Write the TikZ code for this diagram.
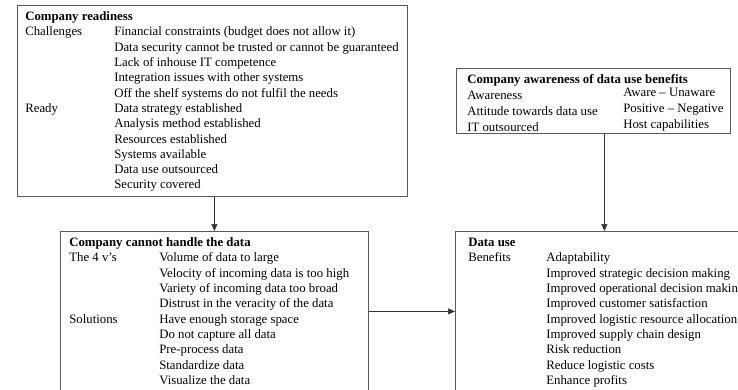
\documentclass[tikz,border=0pt]{standalone}
\usepackage{fontspec}
\setmainfont{Liberation Serif}
\usepackage{array}
\usetikzlibrary{positioning}
\usetikzlibrary{arrows.meta}
\tikzset{panel box/.style={draw=black!65,line width=0.8pt,rectangle,anchor=north west,inner sep=0pt},
	panel text/.style={inner sep=0pt,align=left,font=\fontsize{12.8}{15.3}\selectfont},}

\begin{document}
\begin{tikzpicture}[x=1pt, y=-1pt, >={Triangle[length=7pt,width=6pt]}, semithick]
	\useasboundingbox (0,0) rectangle (738,389);
	\clip (0,0) rectangle (738,389);

	% boxes
	\node[panel box, minimum width=390pt, minimum height=191pt] (readybox) at (17,5) {};
	\node[panel box, minimum width=308pt, minimum height=160pt] (handlebox) at (60,231) {};
	\node[panel box, minimum width=300pt, minimum height=160pt] (usebox) at (455,231) {};
	\node[panel box, minimum width=274pt, minimum height=65pt] (awarebox) at (456,68) {};

	% texts
	\node[panel text, below right=4.6pt and 8pt of readybox.north west] (readytext) {%
		\begin{tabular}{@{}p{89pt}@{}l@{}}
		\multicolumn{2}{@{}l}{\textbf{Company readiness}}\\
		Challenges & Financial constraints (budget does not allow it)\\
		 & Data security cannot be trusted or cannot be guaranteed\\
		 & Lack of inhouse IT competence\\
		 & Integration issues with other systems\\
		 & Off the shelf systems do not fulfil the needs\\
		Ready & Data strategy established\\
		 & Analysis method established\\
		 & Resources established\\
		 & Systems available\\
		 & Data use outsourced\\
		 & Security covered
		\end{tabular}};
	\node[panel text, below right=4.6pt and 9pt of handlebox.north west] (handletext) {%
		\begin{tabular}{@{}p{90pt}@{}l@{}}
		\multicolumn{2}{@{}l}{\textbf{Company cannot handle the data}}\\
		The 4 v’s & Volume of data to large\\
		 & Velocity of incoming data is too high\\
		 & Variety of incoming data too broad\\
		 & Distrust in the veracity of the data\\
		Solutions & Have enough storage space\\
		 & Do not capture all data\\
		 & Pre-process data\\
		 & Standardize data\\
		 & Visualize the data
		\end{tabular}};
	\node[panel text, below right=4.6pt and 13pt of usebox.north west] (usetext) {%
		\begin{tabular}{@{}p{78pt}@{}l@{}}
		\multicolumn{2}{@{}l}{\textbf{Data use}}\\
		Benefits & Adaptability\\
		 & Improved strategic decision making\\
		 & Improved operational decision making\\
		 & Improved customer satisfaction\\
		 & Improved logistic resource allocation\\
		 & Improved supply chain design\\
		 & Risk reduction\\
		 & Reduce logistic costs\\
		 & Enhance profits
		\end{tabular}};
	\node[panel text, below right=4.3pt and 11pt of awarebox.north west] (awaretext) {%
		\begin{tabular}{@{}p{156pt}@{}l@{}}
		\multicolumn{2}{@{}l}{\textbf{Company awareness of data use benefits}}\\
		Awareness & \raisebox{3pt}{Aware – Unaware}\\
		Attitude towards data use & \raisebox{3pt}{Positive – Negative}\\
		IT outsourced & \raisebox{3pt}{Host capabilities}
		\end{tabular}};

	% connectors
	\draw[->, black!80] ([xshift=2pt]readybox.south) -- ([xshift=2pt]readybox.south |- handlebox.north);
	\draw[->, black!80] ([xshift=11pt]awarebox.south) -- ([xshift=11pt]awarebox.south |- usebox.north);
	\draw[->, black!80] (handlebox.east) -- (usebox.west);
\end{tikzpicture}
\end{document}
